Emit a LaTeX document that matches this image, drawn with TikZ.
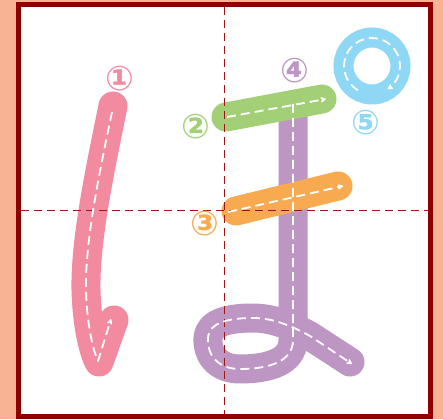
\documentclass[tikz,border=0pt]{standalone}
\usepackage{fontspec}
\newfontfamily\numfont{DejaVu Sans}
\usetikzlibrary{arrows.meta}
\definecolor{bgsalmon}{HTML}{F8B294}
\definecolor{framered}{HTML}{8C0000}
\definecolor{guidered}{HTML}{A01414}
\definecolor{strokepink}{HTML}{F28AA0}
\definecolor{strokegreen}{HTML}{A3D076}
\definecolor{strokeorange}{HTML}{F7AA50}
\definecolor{strokepurple}{HTML}{BD96C4}
\definecolor{strokeblue}{HTML}{8ED8F5}
\tikzset{
  band/.style={line width=29pt, line cap=round, line join=round},
  guide/.style={draw=guidered, line width=1.6pt, dash pattern=on 8pt off 5pt},
  trace/.style={draw=white, line width=1.8pt, line join=round,
                dash pattern=on 9pt off 5pt,
                -{Stealth[length=7pt, width=7pt, round]}},
  num/.style={font=\numfont\bfseries\fontsize{34}{34}\selectfont, inner sep=0pt},
}

\begin{document}
\begin{tikzpicture}[x=1pt, y=-1pt]
  \useasboundingbox (0,0) rectangle (443,419);
  % paper and frame
  \fill[bgsalmon] (0,0) rectangle (443,419);
  \fill[white] (18.5,4.5) rectangle (430.5,416.5);
  \draw[framered, line width=5pt] (18.5,4.5) rectangle (430.5,416.5);
  % strokes
  \draw[band, strokepink] (113,106) .. controls (100,170) and (85,240) .. (86,290)
    .. controls (87,330) and (95,355) .. (99,362) -- (114,320);
  \draw[band, strokepurple] (293,112) -- (293,340)
    .. controls (293,362) and (268,369) .. (240,369)
    .. controls (218,369) and (207,355) .. (208,338)
    .. controls (209,322) and (230,318) .. (253,318)
    .. controls (272,318) and (290,325) .. (310,336) -- (350,362);
  \draw[band, strokegreen]  (226,117) -- (322,99);
  \draw[band, strokeorange] (236,211) -- (338,186);
  \draw[strokeblue, line width=20pt] (372,66) circle[radius=28.5];
  % guide lines
  \draw[guide] (224.5,7) -- (224.5,414);
  \draw[guide] (21,210.5) -- (428,210.5);
  % direction traces
  \draw[trace] (112,112) .. controls (100,170) and (85,240) .. (86,290)
    .. controls (87,330) and (95,355) .. (98,361) -- (111,319);
  \draw[trace] (293,104) -- (293,340)
    .. controls (293,362) and (268,369) .. (240,369)
    .. controls (218,369) and (207,355) .. (208,338)
    .. controls (209,322) and (230,318) .. (253,318)
    .. controls (272,318) and (290,325) .. (310,336) -- (352,364);
  \draw[trace] (227,117) -- (326,99);
  \draw[trace] (228,212) -- (343,186);
  \draw[trace] (372,66) ++(120:28) arc[start angle=120, end angle=416, radius=28];
  % stroke numbers
  \node[num, text=strokepink]   (n1) at (120,79)  {①};
  \node[num, text=strokegreen]  (n2) at (196,127) {②};
  \node[num, text=strokeorange] (n3) at (205,224) {③};
  \node[num, text=strokepurple] (n4) at (295,71)  {④};
  \node[num, text=strokeblue]   (n5) at (366,123) {⑤};
\end{tikzpicture}
\end{document}
